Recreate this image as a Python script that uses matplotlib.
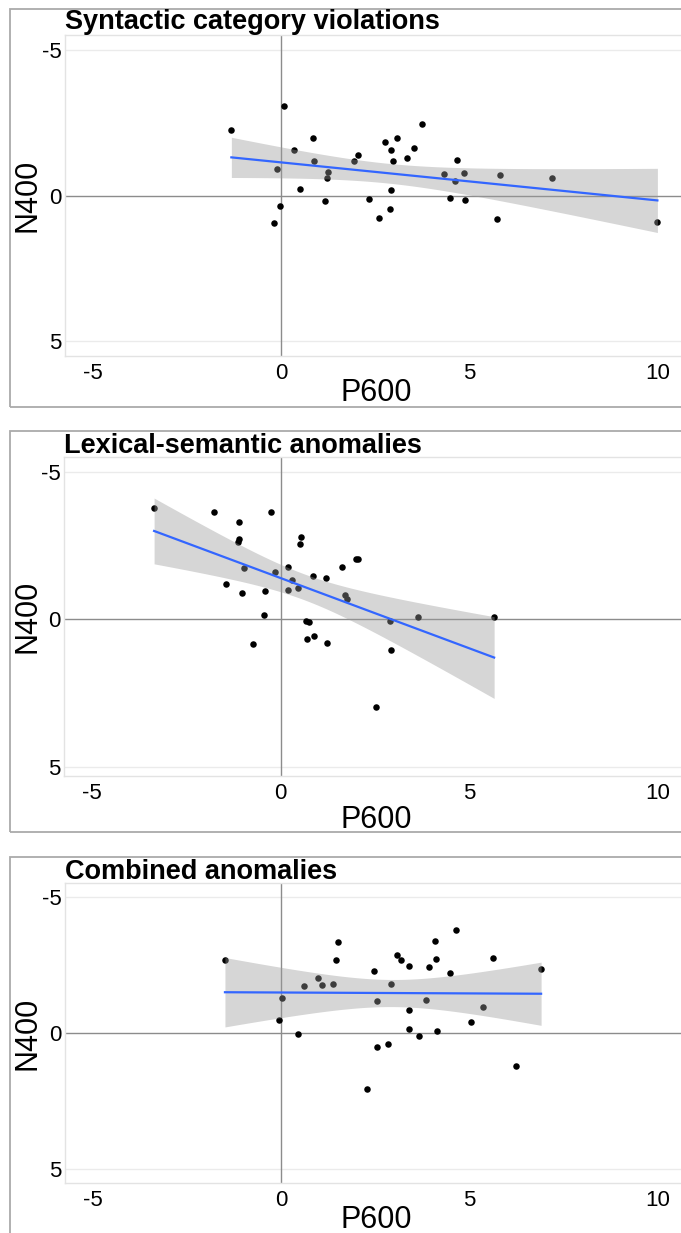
import matplotlib.pyplot as plt
import numpy as np
from matplotlib.patches import Rectangle

plt.rcParams['font.family'] = ['Liberation Sans', 'DejaVu Sans']

# panel titles
titles = ["Syntactic category violations", "Lexical-semantic anomalies", "Combined anomalies"]
x_ticks = [-5, 0, 5, 10]
y_ticks = [-5, 0, 5]

# syntactic category violations
syn_p600 = [-1.33, 0.06, -0.12, -0.04, -0.20, 0.34, 0.49, 0.84, 0.86, 1.25, 1.22, 1.16,
            1.93, 2.04, 2.33, 2.60, 2.76, 2.90, 2.97, 2.90, 2.88, 3.08, 3.34, 3.52,
            3.74, 4.31, 4.47, 4.61, 4.66, 4.84, 4.87, 5.72, 5.81, 7.19, 9.99]
syn_n400 = [-2.23, -3.08, -0.91, 0.35, 0.93, -1.56, -0.23, -1.98, -1.17, -0.79, -0.59, 0.20,
            -1.17, -1.38, 0.11, 0.76, -1.84, -1.55, -1.19, -0.18, 0.47, -1.98, -1.27, -1.62,
            -2.45, -0.75, 0.10, -0.49, -1.21, -0.78, 0.14, 0.81, -0.70, -0.59, 0.92]

# lexical-semantic anomalies
lex_p600 = [-3.36, -1.76, -0.25, -1.12, -1.10, -1.13, -0.97, -1.44, -1.02, -0.42, -0.45, -0.73,
            -0.14, 0.18, 0.29, 0.19, 0.47, 0.54, 0.52, 0.67, 0.75, 0.70, 0.89, 0.86,
            1.19, 1.23, 1.62, 2.00, 2.04, 1.71, 1.75, 2.52, 2.91, 2.93, 3.63, 5.66]
lex_n400 = [-3.77, -3.65, -3.65, -3.29, -2.73, -2.61, -1.75, -1.21, -0.89, -0.97, -0.14, 0.82,
            -1.60, -1.77, -1.34, -1.01, -1.06, -2.78, -2.55, 0.06, 0.10, 0.65, 0.55, -1.47,
            -1.42, 0.81, -1.79, -2.06, -2.05, -0.84, -0.70, 2.95, 0.06, 1.03, -0.10, -0.07]

# combined anomalies
comb_p600 = [-1.50, 0.02, -0.06, 0.44, 0.59, 0.97, 1.07, 1.36, 1.44, 1.50, 2.27, 2.47,
             2.53, 2.53, 2.84, 2.91, 3.07, 3.18, 3.39, 3.39, 3.40, 3.65, 3.85, 3.92,
             4.09, 4.12, 4.13, 4.48, 4.65, 5.03, 5.36, 5.61, 6.22, 6.90]
comb_n400 = [-2.68, -1.28, -0.46, 0.03, -1.71, -2.01, -1.76, -1.78, -2.68, -3.32, 2.06, -2.28,
             -1.19, 0.52, 0.40, -1.80, -2.87, -2.69, -2.46, -0.85, -0.15, 0.12, -1.20, -2.41,
             -3.36, -2.70, -0.08, -2.19, -3.78, -0.42, -0.95, -2.76, 1.20, -2.34]

W, H = 681, 1233

# pixel layout of each panel: (plot left, plot top, plot bottom, ylim bottom,
#                              frame top, frame bottom, title baseline, xlabel centre)
layout = [
    (65, 35, 356, 5.5, 9, 407, 29, 393),
    (64, 457, 776, 5.3, 431, 832, 453, 820),
    (65, 883, 1183, 5.5, 857, 1260, 879, 1220),
]
data = [(syn_p600, syn_n400), (lex_p600, lex_n400), (comb_p600, comb_n400)]


def t975(df):
    z = 1.959964
    return z + (z**3 + z) / (4 * df) + (5 * z**5 + 16 * z**3 + 3 * z) / (96 * df**2)


# linear fit with 95% confidence band, like geom_smooth(method="lm")
def lm_band(x, y):
    x = np.asarray(x)
    y = np.asarray(y)
    n = len(x)
    b, a = np.polyfit(x, y, 1)
    resid = y - (a + b * x)
    s = np.sqrt(np.sum(resid**2) / (n - 2))
    sxx = np.sum((x - x.mean())**2)
    xs = np.linspace(x.min(), x.max(), 80)
    fit = a + b * xs
    se = s * np.sqrt(1 / n + (xs - x.mean())**2 / sxx)
    t = t975(n - 2)
    return xs, fit, fit - t * se, fit + t * se


fig = plt.figure(figsize=(W / 100, H / 100), dpi=100)

for i, (title, (px, ny)) in enumerate(zip(titles, data)):
    left, top, bottom, ybot, ftop, fbot, tbase, xlab_y = layout[i]
    right = 686

    # outer frame round each panel
    fig.patches.append(Rectangle((10 / W, 1 - fbot / H), (690 - 10) / W, (fbot - ftop) / H,
                                 transform=fig.transFigure, fill=False,
                                 edgecolor='#aaaaaa', linewidth=1.3))

    ax = fig.add_axes([left / W, 1 - bottom / H, (right - left) / W, (bottom - top) / H])
    ax.set_xlim(-5.75, 10.75)
    ax.set_ylim(ybot, -5.5)
    ax.set_xticks(x_ticks)
    ax.set_yticks(y_ticks)
    ax.set_xticklabels([str(v) for v in x_ticks])
    ax.set_yticklabels([str(v) for v in y_ticks])
    ax.tick_params(length=0, labelsize=16, colors='black')
    ax.tick_params(axis='x', pad=5)
    ax.tick_params(axis='y', pad=2.5)
    for sp in ax.spines.values():
        sp.set_color('#e3e3e3')
        sp.set_linewidth(1.0)
    for yv in [-5, 5]:
        ax.axhline(yv, color='#ebebeb', linewidth=1.0, zorder=0)
    ax.axhline(0, color='#8c8c8c', linewidth=1.0, zorder=1)
    ax.axvline(0, color='#8c8c8c', linewidth=1.0, zorder=1)

    ax.scatter(px, ny, s=22, color='black', linewidths=0, zorder=2)

    xs, fit, lo, hi = lm_band(px, ny)
    ax.fill_between(xs, lo, hi, color='#999999', alpha=0.4, linewidth=0, zorder=3)
    ax.plot(xs, fit, color='#3366FF', linewidth=1.6, zorder=4)

    fig.text(left / W, 1 - tbase / H, title, fontsize=19.5, fontweight='bold',
             ha='left', va='baseline')
    fig.text(376 / W, 1 - xlab_y / H, "P600", fontsize=22, ha='center', va='center')
    fig.text(28 / W, 1 - ((top + bottom) / 2) / H, "N400", fontsize=22, rotation=90,
             ha='center', va='center')

fig.savefig("out.png", dpi=100)
